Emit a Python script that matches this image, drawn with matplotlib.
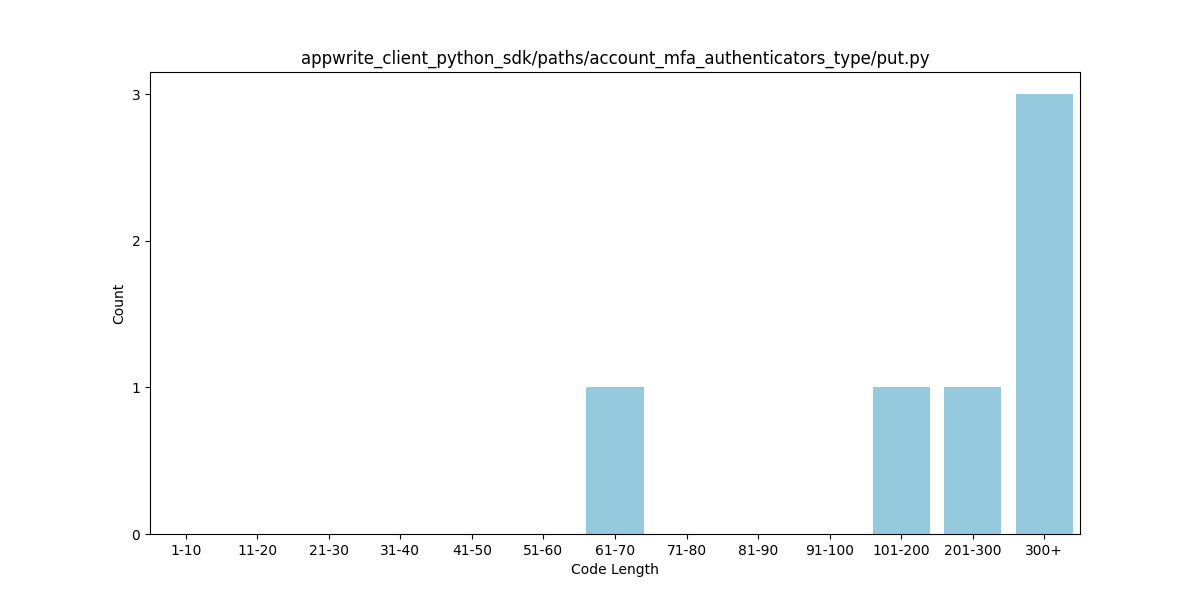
import matplotlib
matplotlib.use("Agg")
import matplotlib.pyplot as plt
import seaborn as sns

bins = ["1-10", "11-20", "21-30", "31-40", "41-50", "51-60", "61-70",
        "71-80", "81-90", "91-100", "101-200", "201-300", "300+"]
counts = [0, 0, 0, 0, 0, 0, 1, 0, 0, 0, 1, 1, 3]

fig, ax = plt.subplots(figsize=(12, 6))
sns.barplot(x=bins, y=counts, color="skyblue", ax=ax)
ax.set_title("appwrite_client_python_sdk/paths/account_mfa_authenticators_type/put.py")
ax.set_xlabel("Code Length")
ax.set_ylabel("Count")
ax.set_yticks(range(0, max(counts) + 1))
fig.savefig("out.png", dpi=100)
